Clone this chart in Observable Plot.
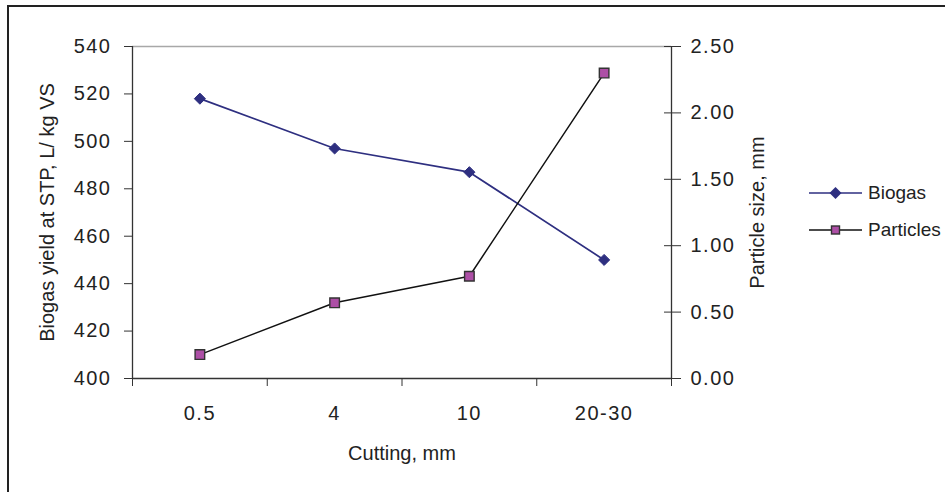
<!DOCTYPE html>
<html><head><meta charset="utf-8">
<script src="https://cdn.jsdelivr.net/npm/d3@7"></script>
<script src="https://cdn.jsdelivr.net/npm/@observablehq/plot@0.6"></script>
<style>
html,body{margin:0;padding:0;background:#fff;overflow:hidden;}
#wrap{position:relative;width:945px;height:492px;font-family:"Liberation Sans",Arial,sans-serif;}
#frame{position:absolute;left:7px;top:5px;width:1000px;height:1000px;border-top:2px solid #222;border-left:2px solid #222;pointer-events:none;}
#legend{position:absolute;left:809px;top:0;}
.row{position:absolute;left:0;display:flex;align-items:center;height:24px;white-space:nowrap;font-size:19px;color:#222;}
.row svg{margin-right:6px;}
#chart svg g[aria-label$="tick label"] text{letter-spacing:1.5px;}
</style></head>
<body>
<div id="wrap"><div id="chart"></div><div id="frame"></div><div id="legend"></div></div>
<script>
const categories = ["0.5", "4", "10", "20-30"];
const biogas = [518, 497, 487, 450];
const particles = [0.18, 0.57, 0.77, 2.30];
const biogasTicks = [400, 420, 440, 460, 480, 500, 520, 540];
const particleTicks = [0, 0.5, 1, 1.5, 2, 2.5];
const seriesNames = ["Biogas", "Particles"];
const yTitle = "Biogas yield at STP, L/ kg VS";
const y2Title = "Particle size, mm";
const xTitle = "Cutting, mm";

const navy = "#2e2f80";
const magenta = "#ad4fa6";
const axisColor = "#333";

const pScale = d3.scaleLinear([0, 2.5], [400, 540]);
const rows = categories.map((c, i) => ({pos: i + 0.5, cat: c, biogas: biogas[i], particles: pScale(particles[i])}));

const chart = Plot.plot({
  width: 945, height: 492,
  marginLeft: 132, marginRight: 274, marginTop: 46, marginBottom: 114,
  style: {fontFamily: '"Liberation Sans", Arial, sans-serif', fontSize: "20px", color: "#222", background: "none", overflow: "visible"},
  x: {domain: [0, categories.length], label: null},
  y: {domain: [400, 540], label: null},
  marks: [
    Plot.ruleY([540], {stroke: "#a8a8a8", strokeWidth: 1.3}),
    Plot.ruleY([400], {stroke: axisColor, strokeWidth: 1.3}),
    Plot.ruleX([0], {stroke: axisColor, strokeWidth: 1.3}),
    Plot.ruleX([categories.length], {stroke: axisColor, strokeWidth: 1.3}),
    Plot.axisY(biogasTicks, {anchor: "left", tickSize: 8, tickPadding: 13, tickFormat: d => String(d), label: null, stroke: axisColor}),
    Plot.axisY(particleTicks.map(pScale), {anchor: "right", tickSize: 17, dx: -8, tickFormat: () => "", label: null, stroke: axisColor}),
    Plot.axisY(particleTicks.map(pScale), {anchor: "right", tickSize: 0, tickPadding: 19, tickFormat: d => pScale.invert(d).toFixed(2), label: null}),
    Plot.axisX(d3.range(categories.length + 1), {tickSize: 8, tickFormat: () => "", label: null, stroke: axisColor}),
    Plot.axisX(rows.map(r => r.pos), {tickSize: 0, tickPadding: 27, tickFormat: d => categories[Math.floor(d)], label: null}),
    Plot.line(rows, {x: "pos", y: "biogas", stroke: navy, strokeWidth: 1.7}),
    Plot.line(rows, {x: "pos", y: "particles", stroke: "#111", strokeWidth: 1.5}),
    Plot.dot(rows, {x: "pos", y: "biogas", symbol: "diamond2", r: 5, fill: navy, stroke: navy, strokeWidth: 1}),
    Plot.dot(rows, {x: "pos", y: "particles", symbol: "square", r: 5.4, fill: magenta, stroke: "#333", strokeWidth: 1.4}),
    Plot.text([yTitle], {frameAnchor: "left", dx: -85, rotate: -90, fontSize: 20, textAnchor: "middle", lineAnchor: "middle"}),
    Plot.text([y2Title], {frameAnchor: "right", dx: 86, rotate: -90, fontSize: 20, textAnchor: "middle", lineAnchor: "middle"}),
    Plot.text([xTitle], {frameAnchor: "bottom", dy: 75, fontSize: 20, textAnchor: "middle", lineAnchor: "middle"})
  ]
});
document.getElementById("chart").appendChild(chart);

// legend
const legend = document.getElementById("legend");
const swatches = {
  Biogas: `<svg width="53" height="14"><line x1="0" y1="7" x2="53" y2="7" stroke="${navy}" stroke-width="1.7"/><polygon points="26.5,1 32.5,7 26.5,13 20.5,7" fill="${navy}"/></svg>`,
  Particles: `<svg width="53" height="14"><line x1="0" y1="7" x2="53" y2="7" stroke="#111" stroke-width="1.5"/><rect x="22.5" y="3" width="8" height="8" fill="${magenta}" stroke="#333" stroke-width="1.4"/></svg>`
};
const rowCenters = [193, 230];
seriesNames.forEach((name, i) => {
  const row = document.createElement("div");
  row.className = "row";
  row.style.top = (rowCenters[i] - 12) + "px";
  row.innerHTML = swatches[name] + `<span>${name}</span>`;
  legend.appendChild(row);
});
</script>
</body></html>
